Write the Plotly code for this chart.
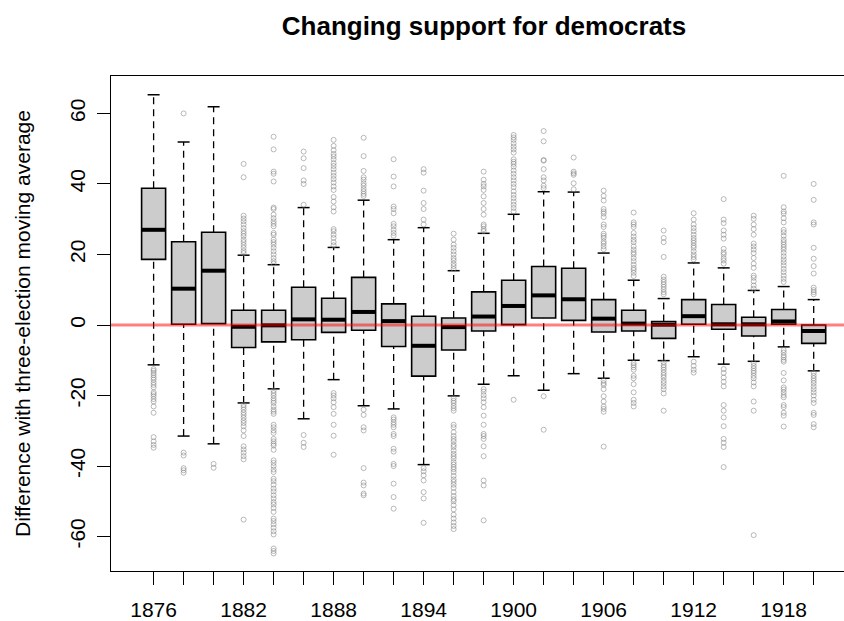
import plotly.graph_objects as go

# Election years (one box per year)
years = [1876, 1878, 1880, 1882, 1884, 1886, 1888, 1890, 1892, 1894, 1896, 1898,
         1900, 1902, 1904, 1906, 1908, 1910, 1912, 1914, 1916, 1918, 1920]
tick_labels = ["1876", "", "", "1882", "", "", "1888", "", "", "1894", "", "",
               "1900", "", "", "1906", "", "", "1912", "", "", "1918", ""]

# Box statistics: difference of democratic vote share with three-election moving average
q1 = [18.6, 0.2, 0.4, -6.4, -4.8, -4.2, -2.1, -1.5, -6.1, -14.5, -7.1, -1.7,
      0.1, 2.0, 1.3, -2.0, -1.7, -3.8, 0.2, -1.2, -3.1, 0.2, -5.2]
median = [27.0, 10.3, 15.4, -0.5, -0.1, 1.6, 1.5, 3.7, 1.1, -5.9, -0.6, 2.4,
          5.4, 8.4, 7.3, 1.8, 0.4, 0.1, 2.5, 0.2, 0.2, 1.0, -1.7]
q3 = [38.8, 23.6, 26.3, 4.2, 4.2, 10.7, 7.6, 13.5, 6.0, 2.5, 2.0, 9.4,
      12.7, 16.6, 16.1, 7.2, 4.2, 1.0, 7.2, 5.8, 2.2, 4.4, 0.0]
whisker_low = [-11.3, -31.5, -33.7, -22.1, -18.1, -26.6, -15.5, -22.9, -23.8, -39.6, -20.1, -16.8,
               -14.4, -18.5, -13.8, -15.1, -10.0, -10.1, -9.0, -11.1, -10.3, -6.2, -13.0]
whisker_high = [65.3, 51.9, 61.9, 19.8, 17.1, 33.3, 22.0, 35.4, 24.2, 27.6, 15.4, 26.0,
                31.4, 37.8, 37.7, 20.4, 12.7, 7.5, 17.6, 16.2, 9.8, 10.9, 7.2]

# Outlying counties per election year
outliers = {
    1876: [-12.5, -13.0, -13.6, -14.2, -14.9, -15.5, -16.3, -17.0, -17.7, -19.1, -19.6, -20.2,
           -21.0, -21.7, -23.1, -24.9, -31.8, -33.0, -34.0, -34.8],
    1878: [60.0, -36.2, -37.0, -40.6, -41.2, -41.9],
    1880: [-39.4, -40.5],
    1882: [45.7, 41.9, 31.0, 30.2, 29.4, 28.5, 27.5, 26.6, 25.9, 25.2, 24.2, 23.5, 22.7, 21.9,
           21.0, 20.4, -22.7, -23.3, -24.0, -24.8, -25.5, -26.3, -27.1, -27.8, -28.7, -29.9,
           -31.5, -34.4, -35.3, -36.2, -37.2, -38.1, -55.2],
    1884: [53.4, 49.8, 43.5, 42.9, 40.7, 33.3, 32.9, 31.3, 30.3, 29.4, 28.7, 28.0, 26.1, 25.6,
           24.2, 23.5, 22.8, 21.9, 20.9, 20.0, 19.0, 18.1, 17.4,
           -18.6, -19.3, -20.0, -20.8, -21.5, -22.1, -23.1, -24.0, -24.6, -25.2, -28.3, -29.0,
           -29.9, -30.6, -32.3, -33.0, -33.7, -34.2, -35.4, -38.4, -39.1, -40.0, -41.0, -41.7,
           -43.6, -44.3, -45.3, -46.4, -47.2, -48.3, -49.2, -50.2, -50.9, -51.9, -53.0, -54.9,
           -55.6, -56.5, -57.5, -58.5, -59.4, -63.4, -64.1, -64.8],
    1886: [49.2, 47.3, 44.5, 41.0, 40.0, 34.1, -31.2, -33.4, -34.6],
    1888: [52.5, 50.8, 49.6, 48.5, 47.8, 47.0, 45.9, 45.1, 44.2, 43.2, 42.3, 41.4, 40.4, 39.3,
           38.3, 36.3, 35.0, 33.4, 32.2, 27.2, 26.6, 25.6, 24.7, 23.5, 22.6,
           -19.3, -20.0, -20.8, -21.9, -23.3, -25.2, -28.3, -31.4, -36.8],
    1890: [53.1, 47.9, 43.7, 41.9, 41.2, 40.2, 39.5, 38.6, 37.9, 37.2, 36.6,
           -24.0, -25.5, -29.0, -29.9, -40.6, -44.7, -45.5, -47.8, -48.3],
    1892: [47.0, 42.1, 39.3, 33.6, 32.9, 31.7, 28.7, 28.0, 27.0, 26.1, 25.3,
           -26.2, -26.8, -27.6, -28.3, -29.0, -30.9, -31.5, -35.1, -35.9, -39.4, -40.0, -45.0,
           -48.8, -52.1],
    1894: [44.2, 43.2, 38.1, 34.6, 32.9, 29.9, 28.5,
           -40.6, -41.5, -42.6, -44.1, -47.4, -49.2, -56.1],
    1896: [25.9, 24.2, 22.8, 21.9, 20.9, 20.0, 19.0, 18.3, 17.4, 16.7, 15.9,
           -20.8, -21.5, -22.1, -22.9, -23.6, -24.3, -28.3, -29.0, -30.4, -31.5, -32.3, -33.0,
           -34.0, -34.6, -35.6, -36.5, -37.2, -37.9, -38.9, -39.6, -40.3, -40.9, -41.7, -42.8,
           -43.8, -44.5, -45.3, -46.2, -47.4, -48.5, -49.4, -50.0, -51.1, -52.3, -53.8, -54.9,
           -56.0, -57.0, -57.9],
    1898: [43.5, 41.2, 40.0, 39.3, 38.3, 36.5, 34.6, 32.9, 31.3, 28.5, 28.0, 27.2, 26.6,
           -18.2, -18.9, -19.9, -20.8, -21.9, -23.3, -25.7, -28.3, -30.9, -31.5, -32.3, -34.4,
           -37.2, -44.1, -45.5, -55.4],
    1900: [53.9, 53.2, 52.5, 51.5, 50.6, 49.8, 48.9, 47.0, 46.3, 45.7, 44.9, 43.8, 42.9, 41.9,
           41.0, 40.0, 39.1, 37.9, 36.9, 36.0, 35.0, 34.1, 33.2, 32.2, -21.2],
    1902: [55.0, 52.1, 46.8, 46.6, 44.2, 41.9, 41.0, 39.5, 38.8, -20.2, -29.7],
    1904: [47.5, 43.5, 43.0, 42.6, 40.2, 38.5],
    1906: [38.1, 36.6, 35.3, 32.9, 32.2, 31.6, 30.6, 28.5, 27.8, 25.9, 25.3, 24.7, 23.7, 23.1,
           22.3, 21.5, -15.8, -16.5, -17.0, -18.2, -20.2, -21.7, -23.1, -23.8, -24.6, -34.5],
    1908: [31.9, 29.1, 28.5, 27.8, 26.1, 25.1, 24.2, 23.5, 22.3, 21.4, 20.6, 20.0, 19.0, 18.1,
           17.1, 16.2, 15.6, 14.8, 13.9,
           -10.8, -11.4, -12.0, -12.7, -14.4, -15.1, -16.8, -19.1, -21.2, -22.1, -23.1],
    1910: [26.8, 24.7, 23.5, 19.3, 13.7, 12.9, 12.2, 11.5, 10.8, 10.1, 9.3, 8.7,
           -10.6, -11.4, -12.0, -12.7, -13.5, -14.2, -14.9, -15.8, -16.5, -17.4, -18.2, -19.4,
           -24.3],
    1912: [31.7, 29.9, 28.5, 27.5, 26.6, 25.6, 24.7, 24.0, 23.3, 22.5, 21.9, 20.9, 20.0, 19.3,
           18.6, -10.4, -11.6, -12.7, -13.5],
    1914: [35.7, 29.9, 28.9, 26.8, 25.6, 24.5, 21.6, 20.6, 20.0, 19.0, 18.3, 17.4,
           -12.5, -13.6, -14.9, -16.1, -17.4, -22.7, -24.3, -26.2, -28.7, -32.3, -33.4, -34.6,
           -40.3],
    1916: [31.0, 30.1, 28.5, 27.2, 25.6, 23.1, 22.3, 21.4, 20.4, 19.0, 17.4, 16.2, 14.0, 13.4,
           12.4, 11.2, 10.3,
           -10.8, -11.6, -12.3, -13.0, -13.6, -14.4, -15.1, -16.3, -17.4, -21.7, -24.3, -59.6],
    1918: [42.3, 33.4, 32.2, 31.6, 30.3, 29.1, 27.0, 26.3, 25.3, 24.2, 23.5, 22.8, 22.1, 21.4,
           20.5, 19.5, 18.6, 17.8, 16.9, 15.9, 15.0, 14.0, 13.1, 12.2,
           -7.1, -7.8, -8.6, -9.2, -9.9, -10.4, -13.6, -15.7, -17.7, -18.3, -19.1, -19.9, -20.5,
           -22.7, -23.3, -24.9, -25.7, -28.8],
    1920: [40.0, 35.5, 29.1, 28.5, 21.9, 18.8, 16.7, 14.6, 10.6, 9.9, 9.3, 8.7,
           -13.6, -14.4, -15.1, -15.8, -16.5, -17.4, -18.2, -19.1, -20.0, -21.2, -22.1, -24.9,
           -25.5, -28.1, -29.0],
}

pos = list(range(1, len(years) + 1))
box_w = 0.8
cap_w = 0.2
font_family = "Liberation Sans, Arial, sans-serif"

fig = go.Figure()

# dashed whiskers
wx, wy = [], []
for p, a, b, c, d in zip(pos, whisker_low, q1, q3, whisker_high):
    wx += [p, p, None, p, p, None]
    wy += [a, b, None, c, d, None]
fig.add_trace(go.Scatter(x=wx, y=wy, mode="lines", hoverinfo="skip",
                         line=dict(color="black", width=1.3, dash="7px,5px")))

# whisker caps
cx, cy = [], []
for p, a, d in zip(pos, whisker_low, whisker_high):
    cx += [p - cap_w, p + cap_w, None, p - cap_w, p + cap_w, None]
    cy += [a, a, None, d, d, None]
fig.add_trace(go.Scatter(x=cx, y=cy, mode="lines", hoverinfo="skip",
                         line=dict(color="black", width=1.5)))

# boxes from Q1 to Q3
fig.add_trace(go.Bar(x=pos, base=q1, y=[c - a for a, c in zip(q1, q3)], width=box_w,
                     marker=dict(color="#CCCCCC", line=dict(color="black", width=1.6)),
                     hoverinfo="skip"))

# medians
mx, my = [], []
for p, m in zip(pos, median):
    mx += [p - box_w / 2, p + box_w / 2, None]
    my += [m, m, None]
fig.add_trace(go.Scatter(x=mx, y=my, mode="lines", hoverinfo="skip",
                         line=dict(color="black", width=4)))

# outliers
ox, oy = [], []
for p, yr in zip(pos, years):
    for v in outliers.get(yr, []):
        ox.append(p)
        oy.append(v)
fig.add_trace(go.Scatter(x=ox, y=oy, mode="markers", hoverinfo="skip",
                         marker=dict(symbol="circle-open", size=5,
                                     color="rgba(130,130,130,0.55)",
                                     line=dict(width=1))))

# reference line at zero
fig.add_shape(type="line", xref="paper", x0=0, x1=1, yref="y", y0=0, y1=0,
              line=dict(color="rgba(255,0,0,0.5)", width=3), layer="above")

fig.update_layout(
    width=844, height=621,
    margin=dict(l=111, r=0, t=76, b=48),
    paper_bgcolor="white", plot_bgcolor="white",
    showlegend=False, barmode="overlay",
    font=dict(family=font_family, size=21, color="black"),
    title=dict(text="<b>Changing support for democrats</b>",
               font=dict(family=font_family, size=26, color="black"),
               x=484 / 844, xref="container", xanchor="center",
               y=1 - 26 / 621, yref="container", yanchor="middle"),
    xaxis=dict(range=[-0.42, 24.01], tickmode="array", tickvals=pos, ticktext=tick_labels,
               showgrid=False, zeroline=False, showline=True, mirror=True,
               linecolor="black", linewidth=1.3,
               ticks="outside", ticklen=13, tickwidth=1.3, tickcolor="black",
               tickfont=dict(size=21), ticklabelstandoff=7),
    yaxis=dict(range=[-69.77, 70.62], tickmode="array",
               tickvals=[-60, -40, -20, 0, 20, 40, 60],
               ticktext=["-60", "-40", "-20", "0", "20", "40", "60"],
               tickangle=-90, showgrid=False, zeroline=False, showline=True,
               linecolor="black", linewidth=1.3,
               ticks="outside", ticklen=13, tickwidth=1.3, tickcolor="black",
               tickfont=dict(size=21), ticklabelstandoff=3,
               title=dict(text="Difference with three-election moving average",
                          font=dict(size=21), standoff=30)),
)

fig.write_html("out.html")
